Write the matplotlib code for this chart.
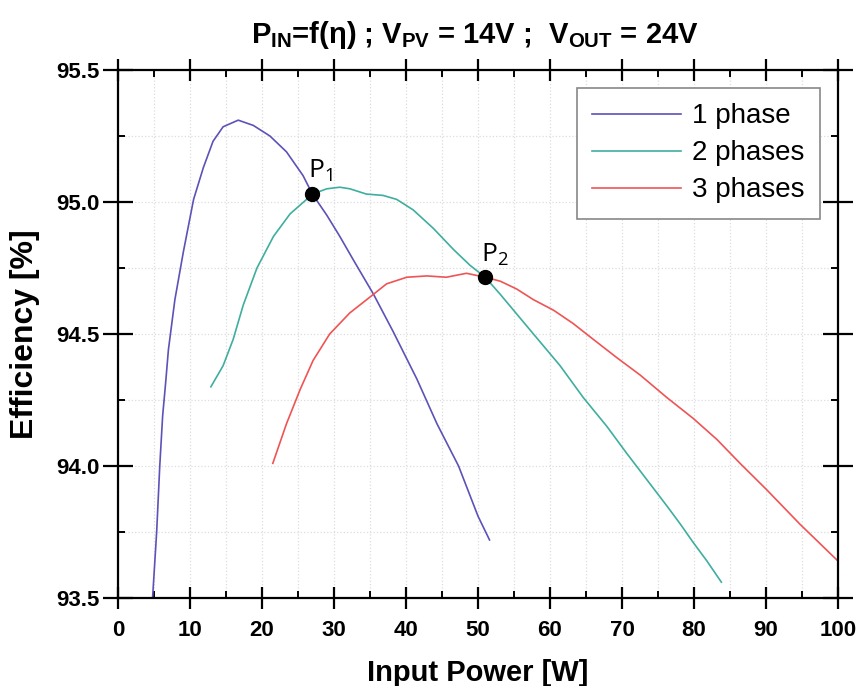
import matplotlib
matplotlib.use('Agg')
import matplotlib.pyplot as plt
from matplotlib.ticker import MultipleLocator

# Valores (potência de entrada [W], eficiência [%])
p_1phase = [4.8, 5.37, 5.8, 6.2, 6.6, 7.0, 7.9, 9.07, 10.5, 11.85, 13.2, 14.6, 16.7, 18.8,
            21.1, 23.4, 25.7, 27.0, 29.0, 30.8, 32.7, 35.5, 38.2, 41.5, 44.3, 47.3, 50.0, 51.6]
eff_1phase = [93.50, 93.75, 94.00, 94.19, 94.31, 94.44, 94.63, 94.81, 95.01, 95.13, 95.23,
              95.285, 95.31, 95.29, 95.25, 95.19, 95.10, 95.03, 94.95, 94.87, 94.78, 94.65,
              94.51, 94.33, 94.16, 94.00, 93.81, 93.72]

p_2phases = [12.9, 14.6, 16.0, 17.4, 19.3, 21.6, 23.9, 26.2, 27.0, 29.0, 30.8, 32.2, 34.5,
             36.8, 38.7, 41.0, 43.8, 46.6, 48.9, 51.0, 53.1, 57.7, 61.4, 64.6, 67.9, 70.6,
             73.4, 76.2, 78.1, 79.9, 81.8, 83.8]
eff_2phases = [94.30, 94.38, 94.48, 94.61, 94.75, 94.87, 94.955, 95.01, 95.03, 95.05, 95.056,
               95.05, 95.03, 95.025, 95.01, 94.97, 94.90, 94.82, 94.76, 94.715, 94.65, 94.50,
               94.38, 94.26, 94.15, 94.05, 93.95, 93.85, 93.78, 93.71, 93.64, 93.56]

p_3phases = [21.5, 23.4, 25.3, 27.1, 29.4, 32.2, 35.0, 37.3, 40.1, 42.9, 45.6, 48.4, 51.0,
             53.1, 55.4, 57.7, 60.5, 63.2, 66.0, 69.3, 72.5, 76.2, 79.9, 83.2, 86.4, 90.1,
             94.7, 100.0]
eff_3phases = [94.01, 94.16, 94.29, 94.40, 94.50, 94.58, 94.64, 94.69, 94.715, 94.72, 94.715,
               94.73, 94.715, 94.70, 94.67, 94.63, 94.59, 94.54, 94.48, 94.41, 94.345, 94.26,
               94.18, 94.10, 94.01, 93.91, 93.78, 93.64]

pontos_nome = ['1', '2']
pontos_x = [27.0, 51.0]
pontos_y = [95.03, 94.715]

plt.rcParams['mathtext.fontset'] = 'custom'
plt.rcParams['mathtext.rm'] = 'Open Sans'
plt.rcParams['mathtext.bf'] = 'Liberation Sans:bold'

fig = plt.figure(figsize=(8.59, 6.86), dpi=100)
ax = fig.add_axes([118 / 859, 88 / 686, 720 / 859, 528 / 686])

ax.plot(p_1phase, eff_1phase, color='#5c52b8', lw=1.2, label='1 phase')
ax.plot(p_2phases, eff_2phases, color='#3fae9f', lw=1.2, label='2 phases')
ax.plot(p_3phases, eff_3phases, color='#ef5455', lw=1.2, label='3 phases')

ax.scatter(pontos_x, pontos_y, s=100, color='black', zorder=5)
for nome, px, py in zip(pontos_nome, pontos_x, pontos_y):
    ax.annotate(r'$\mathrm{P}_{' + nome + '}$', (px, py), xytext=(-3, 7),
                textcoords='offset points', fontsize=19, ha='left', va='bottom')

ax.set_xlim(0, 100)
ax.set_ylim(93.5, 95.5)
ax.xaxis.set_major_locator(MultipleLocator(10))
ax.xaxis.set_minor_locator(MultipleLocator(5))
ax.yaxis.set_major_locator(MultipleLocator(0.5))
ax.yaxis.set_minor_locator(MultipleLocator(0.25))

ax.grid(which='both', color='#dddddd', linestyle=':', linewidth=0.9)
ax.set_axisbelow(True)

for s in ax.spines.values():
    s.set_linewidth(1.6)

ax.tick_params(which='major', direction='in', length=9, width=1.6, top=True, right=True)
ax.tick_params(which='minor', direction='in', length=5, width=1.4, top=True, right=True)
ax.tick_params(axis='x', which='major', direction='inout', length=16, pad=8, labelsize=16)
ax.tick_params(axis='y', which='major', direction='inout', length=22, pad=2, labelsize=16)

ax.set_xticks(ax.get_xticks())
ax.set_xticklabels(['%d' % v for v in ax.get_xticks()],
                   family='Liberation Sans', weight='bold', fontsize=16)
ax.set_yticks(ax.get_yticks())
ax.set_yticklabels(['%.1f' % v for v in ax.get_yticks()],
                   family='Liberation Sans', weight='bold', fontsize=16)
ax.set_xlim(0, 100)
ax.set_ylim(93.5, 95.5)

ax.set_xlabel('Input Power [W]', family='Liberation Sans', weight='bold',
              fontsize=21, labelpad=13)
ax.set_ylabel('Efficiency [%]', family='Liberation Sans', weight='bold',
              fontsize=23, labelpad=12)

fig.text(0.553, 0.949,
         r'P$_{\mathbf{IN}}$=f(η) ; V$_{\mathbf{PV}}$ = 14V ;  V$_{\mathbf{OUT}}$ = 24V',
         ha='center', va='center', family='Liberation Sans', weight='bold',
         fontsize=21)

leg = ax.legend(loc='upper right', bbox_to_anchor=(0.975, 0.966), fontsize=20,
                frameon=True, fancybox=False, edgecolor='#888888', framealpha=1,
                handlelength=3.2, handletextpad=0.4, labelspacing=0.4,
                borderpad=0.55, borderaxespad=0)
leg.get_frame().set_linewidth(1.2)
for t in leg.get_texts():
    t.set_family('Liberation Sans')

plt.savefig('out.png', dpi=100)
plt.close()
